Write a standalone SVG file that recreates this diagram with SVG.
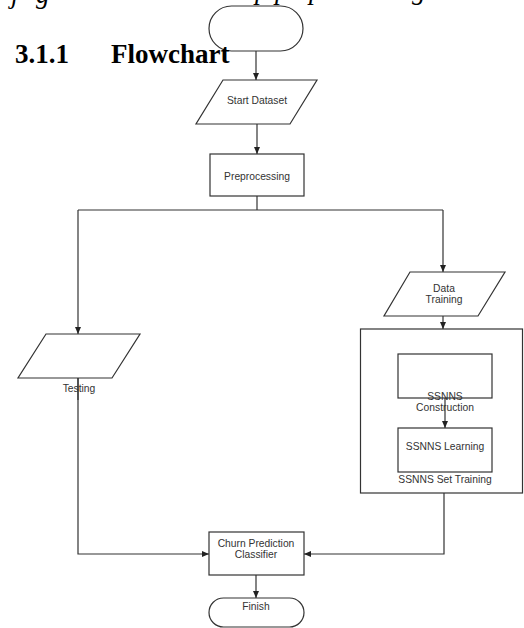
<svg xmlns="http://www.w3.org/2000/svg" width="524" height="628" viewBox="0 0 524 628">
<defs>
<marker id="arr" markerUnits="userSpaceOnUse" markerWidth="8" markerHeight="8" viewBox="0 0 8 8" refX="7" refY="4" orient="auto">
<path d="M0,1 L7,4 L0,7 Z" fill="#222"/>
</marker>
<style>
.s{fill:#fff;stroke:#333;stroke-width:1.2}
.c{fill:none;stroke:#333;stroke-width:1.2}
.t{font-family:"Liberation Sans",Arial,sans-serif;font-size:10.3px;fill:#333;text-anchor:middle}
.h{font-family:"Liberation Serif","Times New Roman",serif;font-weight:bold;font-size:27px;fill:#000}
.i{font-family:"Liberation Serif","Times New Roman",serif;font-style:italic;font-size:27px;fill:#000}
</style>
</defs>
<rect width="524" height="628" fill="#fff"/>
<text class="i" y="3"><tspan x="11">j</tspan><tspan x="36">g</tspan></text>
<text class="i" y="-1"><tspan x="255">p</tspan><tspan x="275">p</tspan><tspan x="309">p</tspan><tspan x="412">g</tspan></text>
<g id="connectors">
<line class="c" x1="256" y1="51" x2="256" y2="80" marker-end="url(#arr)"/>
<line class="c" x1="257" y1="124" x2="257" y2="154" marker-end="url(#arr)"/>
<polyline class="c" points="257,196 257,210"/>
<polyline class="c" points="78,210 443,210"/>
<polyline class="c" points="78,210 78,334" marker-end="url(#arr)"/>
<polyline class="c" points="443,210 443,272" marker-end="url(#arr)"/>
<line class="c" x1="443" y1="316" x2="443" y2="329" marker-end="url(#arr)"/>
<polyline class="c" points="78,378 78,554 209,554" marker-end="url(#arr)"/>
<polyline class="c" points="444,493 444,554 304,554" marker-end="url(#arr)"/>
<line class="c" x1="256" y1="575" x2="256" y2="598" marker-end="url(#arr)"/>
</g>
<g id="start">
<rect class="c" x="209" y="6" width="94" height="45" rx="22.5"/>
</g>
<text class="h" x="15" y="63">3.1.1</text>
<text class="h" x="111" y="63">Flowchart</text>
<g id="start-dataset">
<polygon class="s" points="223,80 317,80 290,124 196,124"/>
<text class="t" x="257" y="104">Start Dataset</text>
</g>
<g id="preprocessing">
<rect class="s" x="210" y="154" width="94" height="42"/>
<text class="t" x="257" y="180">Preprocessing</text>
</g>
<g id="testing">
<polygon class="s" points="46,334 140,334 112,378 18,378"/>
<line class="c" x1="78" y1="378" x2="78" y2="400"/>
<text class="t" x="79" y="392">Testing</text>
</g>
<g id="data-training">
<polygon class="s" points="410,272 505,272 478,316 384,316"/>
<text class="t" x="444" y="292">Data</text>
<text class="t" x="444" y="303">Training</text>
</g>
<g id="ssnns-set-training">
<rect class="s" x="360.5" y="329" width="162" height="164"/>
<text class="t" x="445" y="483">SSNNS Set Training</text>
</g>
<g id="ssnns-construction">
<rect class="s" x="398" y="354" width="94" height="44"/>
<text class="t" x="445" y="400">SSNNS</text>
<text class="t" x="445" y="411">Construction</text>
</g>
<line class="c" x1="445" y1="398" x2="445" y2="428" marker-end="url(#arr)"/>
<g id="ssnns-learning">
<rect class="s" x="398" y="428" width="94" height="44"/>
<text class="t" x="445" y="450">SSNNS Learning</text>
</g>
<g id="churn-prediction-classifier">
<rect class="s" x="209" y="532" width="95" height="43"/>
<text class="t" x="256" y="547">Churn Prediction</text>
<text class="t" x="256" y="558">Classifier</text>
</g>
<g id="finish">
<rect class="s" x="209" y="598" width="95" height="29" rx="14.5"/>
<text class="t" x="256" y="610">Finish</text>
</g>
</svg>
